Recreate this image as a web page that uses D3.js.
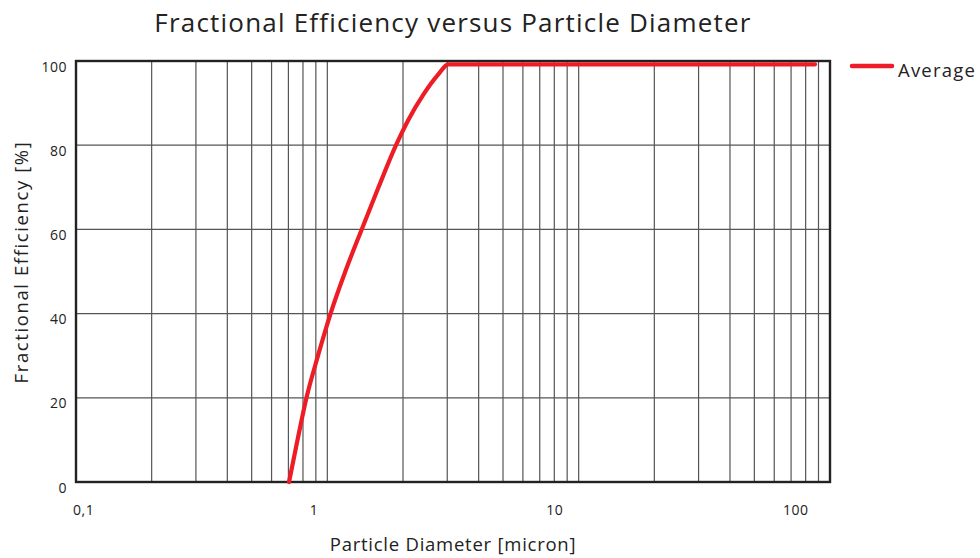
<!DOCTYPE html>
<html>
<head>
<meta charset="utf-8">
<script src="https://d3js.org/d3.v7.min.js"></script>
<style>
  body { margin: 0; background: #fff; }
  svg { display: block; font-family: "Open Sans", sans-serif; }
  .grid line { stroke: #555; stroke-width: 1.2px; }
  text { fill: #222; }
</style>
</head>
<body>
<svg id="chart" width="980" height="558"></svg>
<script>
  // values
  const diameter   = [0.704, 0.761, 0.826, 0.918, 1.030, 1.179, 1.370, 1.598, 1.876, 2.100, 2.410, 2.764, 3.029, 87.2];
  const efficiency = [0, 10, 20, 30, 40, 50, 60, 70, 80, 86, 92, 96.8, 99.2, 99.2];
  const xTicks = [0.1, 1, 10, 100];
  const yTicks = [0, 20, 40, 60, 80, 100];
  const seriesName = "Average";

  const svg = d3.select("#chart");
  const plotL = 76, plotR = 830, plotT = 61, plotB = 482;

  const x = d3.scaleLog().domain([0.1, 100]).range([plotL, plotR]);
  const y = d3.scaleLinear().domain([0, 100]).range([plotB, plotT]);
  // tick labels in the picture sit a bit off the grid, so they get their own scale
  const xLabel = d3.scaleLog().domain([0.1, 100]).range([73, 783]);

  // vertical grid (log minor lines)
  svg.append("g").attr("class", "grid")
    .selectAll("line")
    .data(x.ticks())
    .enter().append("line")
    .attr("x1", d => x(d)).attr("x2", d => x(d))
    .attr("y1", plotT).attr("y2", plotB);

  // horizontal grid
  svg.append("g").attr("class", "grid")
    .selectAll("line")
    .data(yTicks)
    .enter().append("line")
    .attr("x1", plotL).attr("x2", plotR)
    .attr("y1", d => y(d)).attr("y2", d => y(d));

  // plot frame
  svg.append("rect")
    .attr("x", plotL).attr("y", plotT)
    .attr("width", plotR - plotL).attr("height", plotB - plotT)
    .attr("fill", "none").attr("stroke", "#222").attr("stroke-width", 2.4);

  // x labels
  svg.append("g")
    .selectAll("text")
    .data(xTicks)
    .enter().append("text")
    .attr("x", d => xLabel(d))
    .attr("y", 514.5)
    .attr("font-size", 14)
    .attr("letter-spacing", 0.5)
    .text(d => String(d).replace(".", ","));

  // y labels
  svg.append("g")
    .selectAll("text")
    .data(yTicks)
    .enter().append("text")
    .attr("x", 67)
    .attr("y", d => y(d) + 10.5)
    .attr("text-anchor", "end")
    .attr("font-size", 14)
    .attr("letter-spacing", 0.5)
    .text(d => d);

  // the curve
  const points = diameter.map((d, i) => [d, efficiency[i]]);
  const line = d3.line()
    .x(d => x(d[0]))
    .y(d => y(d[1]))
    .curve(d3.curveMonotoneX);

  svg.append("path")
    .datum(points)
    .attr("d", line)
    .attr("fill", "none")
    .attr("stroke", "#ee1c25")
    .attr("stroke-width", 4.2)
    .attr("stroke-linecap", "round")
    .attr("stroke-linejoin", "round");

  // titles
  svg.append("text")
    .attr("x", 453).attr("y", 32)
    .attr("text-anchor", "middle")
    .attr("font-size", 26)
    .attr("letter-spacing", 1.2)
    .text("Fractional Efficiency versus Particle Diameter");

  svg.append("text")
    .attr("x", 453).attr("y", 551)
    .attr("text-anchor", "middle")
    .attr("font-size", 18.5)
    .attr("letter-spacing", 0.75)
    .text("Particle Diameter [micron]");

  svg.append("text")
    .attr("transform", "translate(28,262) rotate(-90)")
    .attr("text-anchor", "middle")
    .attr("font-size", 18.5)
    .attr("letter-spacing", 1.6)
    .text("Fractional Efficiency [%]");

  // legend
  const legend = svg.append("g").attr("transform", "translate(852,66)");
  legend.append("line")
    .attr("x1", 0).attr("x2", 40)
    .attr("stroke", "#ee1c25").attr("stroke-width", 4.5)
    .attr("stroke-linecap", "round");
  legend.append("text")
    .attr("x", 46).attr("y", 11)
    .attr("font-size", 18.5)
    .attr("letter-spacing", 1.2)
    .text(seriesName);
</script>
</body>
</html>
